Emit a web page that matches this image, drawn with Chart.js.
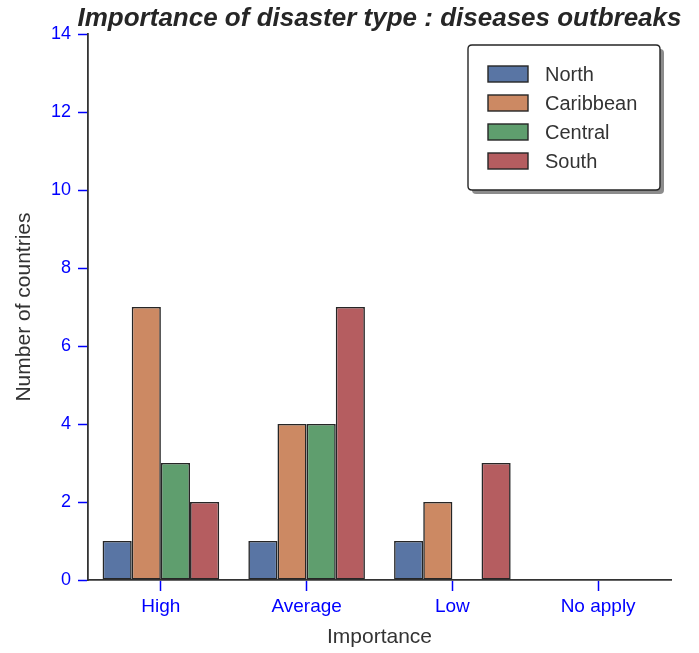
<!DOCTYPE html>
<html>
<head>
<meta charset="utf-8">
<script src="https://cdn.jsdelivr.net/npm/chart.js@4/dist/chart.umd.min.js"></script>
<style>
  body { margin: 0; background: #fff; }
  canvas { display: block; }
</style>
</head>
<body>
<canvas id="barChart" width="699" height="653"></canvas>
<script>
const categories = ['High', 'Average', 'Low', 'No apply']
const north = [1, 1, 1, 0]
const caribbean = [7, 4, 2, 0]
const central = [3, 4, 0, 0]
const south = [2, 7, 3, 0]
const regionNames = ['North', 'Caribbean', 'Central', 'South']
const regionColors = ['#5975a4', '#cc8963', '#5f9e6e', '#b55d60']
const yTicks = [0, 2, 4, 6, 8, 10, 12, 14]

const FONT = 'Liberation Sans, Arial, sans-serif'
const series = [north, caribbean, central, south]

const datasets = series.map((vals, i) => ({
  label: regionNames[i],
  data: vals,
  backgroundColor: regionColors[i],
  borderColor: '#262626',
  borderWidth: 1.6,
  borderSkipped: false,
  categoryPercentage: 0.8,
  barPercentage: 1.0
}))

// title + boxed legend with shadow, drawn by hand
const extras = {
  id: 'extras',
  afterDraw (chart) {
    const ctx = chart.ctx
    const area = chart.chartArea
    ctx.save()
    ctx.font = 'italic bold 26px ' + FONT
    ctx.fillStyle = '#262626'
    ctx.textAlign = 'center'
    ctx.textBaseline = 'alphabetic'
    ctx.fillText('Importance of disaster type : diseases outbreaks', (area.left + area.right) / 2, 26)

    // legend
    const bx = 468, by = 45, bw = 192, bh = 145
    ctx.fillStyle = 'rgba(0,0,0,0.45)'
    roundRect(ctx, bx + 4, by + 4, bw, bh, 4)
    ctx.fill()
    ctx.fillStyle = '#fff'
    ctx.strokeStyle = '#262626'
    ctx.lineWidth = 1.4
    roundRect(ctx, bx, by, bw, bh, 4)
    ctx.fill()
    ctx.stroke()

    ctx.font = '20px ' + FONT
    ctx.textAlign = 'left'
    ctx.textBaseline = 'middle'
    chart.data.datasets.forEach((ds, i) => {
      const y = 74 + i * 29
      ctx.fillStyle = ds.backgroundColor
      ctx.fillRect(488, y - 8, 40, 16)
      ctx.strokeStyle = '#262626'
      ctx.lineWidth = 1.4
      ctx.strokeRect(488, y - 8, 40, 16)
      ctx.fillStyle = '#333'
      ctx.fillText(ds.label, 545, y + 1)
    })
    ctx.restore()
  }
}

function roundRect (ctx, x, y, w, h, r) {
  ctx.beginPath()
  ctx.moveTo(x + r, y)
  ctx.lineTo(x + w - r, y)
  ctx.quadraticCurveTo(x + w, y, x + w, y + r)
  ctx.lineTo(x + w, y + h - r)
  ctx.quadraticCurveTo(x + w, y + h, x + w - r, y + h)
  ctx.lineTo(x + r, y + h)
  ctx.quadraticCurveTo(x, y + h, x, y + h - r)
  ctx.lineTo(x, y + r)
  ctx.quadraticCurveTo(x, y, x + r, y)
  ctx.closePath()
}

new Chart(document.getElementById('barChart'), {
  type: 'bar',
  data: { labels: categories, datasets: datasets },
  options: {
    responsive: false,
    animation: false,
    layout: { padding: { top: 34, right: 28, left: 0, bottom: 0 } },
    plugins: {
      legend: { display: false },
      title: { display: false },
      tooltip: { enabled: false }
    },
    scales: {
      x: {
        offset: true,
        grid: { display: true, offset: false, drawOnChartArea: false, tickLength: 11, tickColor: '#0000ff', tickWidth: 1.5 },
        border: { color: '#333', width: 1.8 },
        ticks: { color: '#0000ff', font: { family: FONT, size: 19 }, padding: 4 },
        title: { display: true, text: 'Importance', color: '#333', font: { family: FONT, size: 21 }, padding: { top: 2, bottom: 3 } },
        afterFit (scale) { scale.height = 73 }
      },
      y: {
        min: 0,
        max: 14,
        afterBuildTicks (scale) { scale.ticks = yTicks.map(v => ({ value: v })) },
        grid: { display: true, drawOnChartArea: false, tickLength: 10, tickColor: '#0000ff', tickWidth: 1.5 },
        border: { color: '#333', width: 1.8 },
        ticks: { color: '#0000ff', font: { family: FONT, size: 18 }, padding: 7 },
        title: { display: true, text: 'Number of countries', color: '#333', font: { family: FONT, size: 21 }, padding: { top: 12, bottom: 0 } },
        afterFit (scale) { scale.width = 88 }
      }
    }
  },
  plugins: [extras]
})
</script>
</body>
</html>
